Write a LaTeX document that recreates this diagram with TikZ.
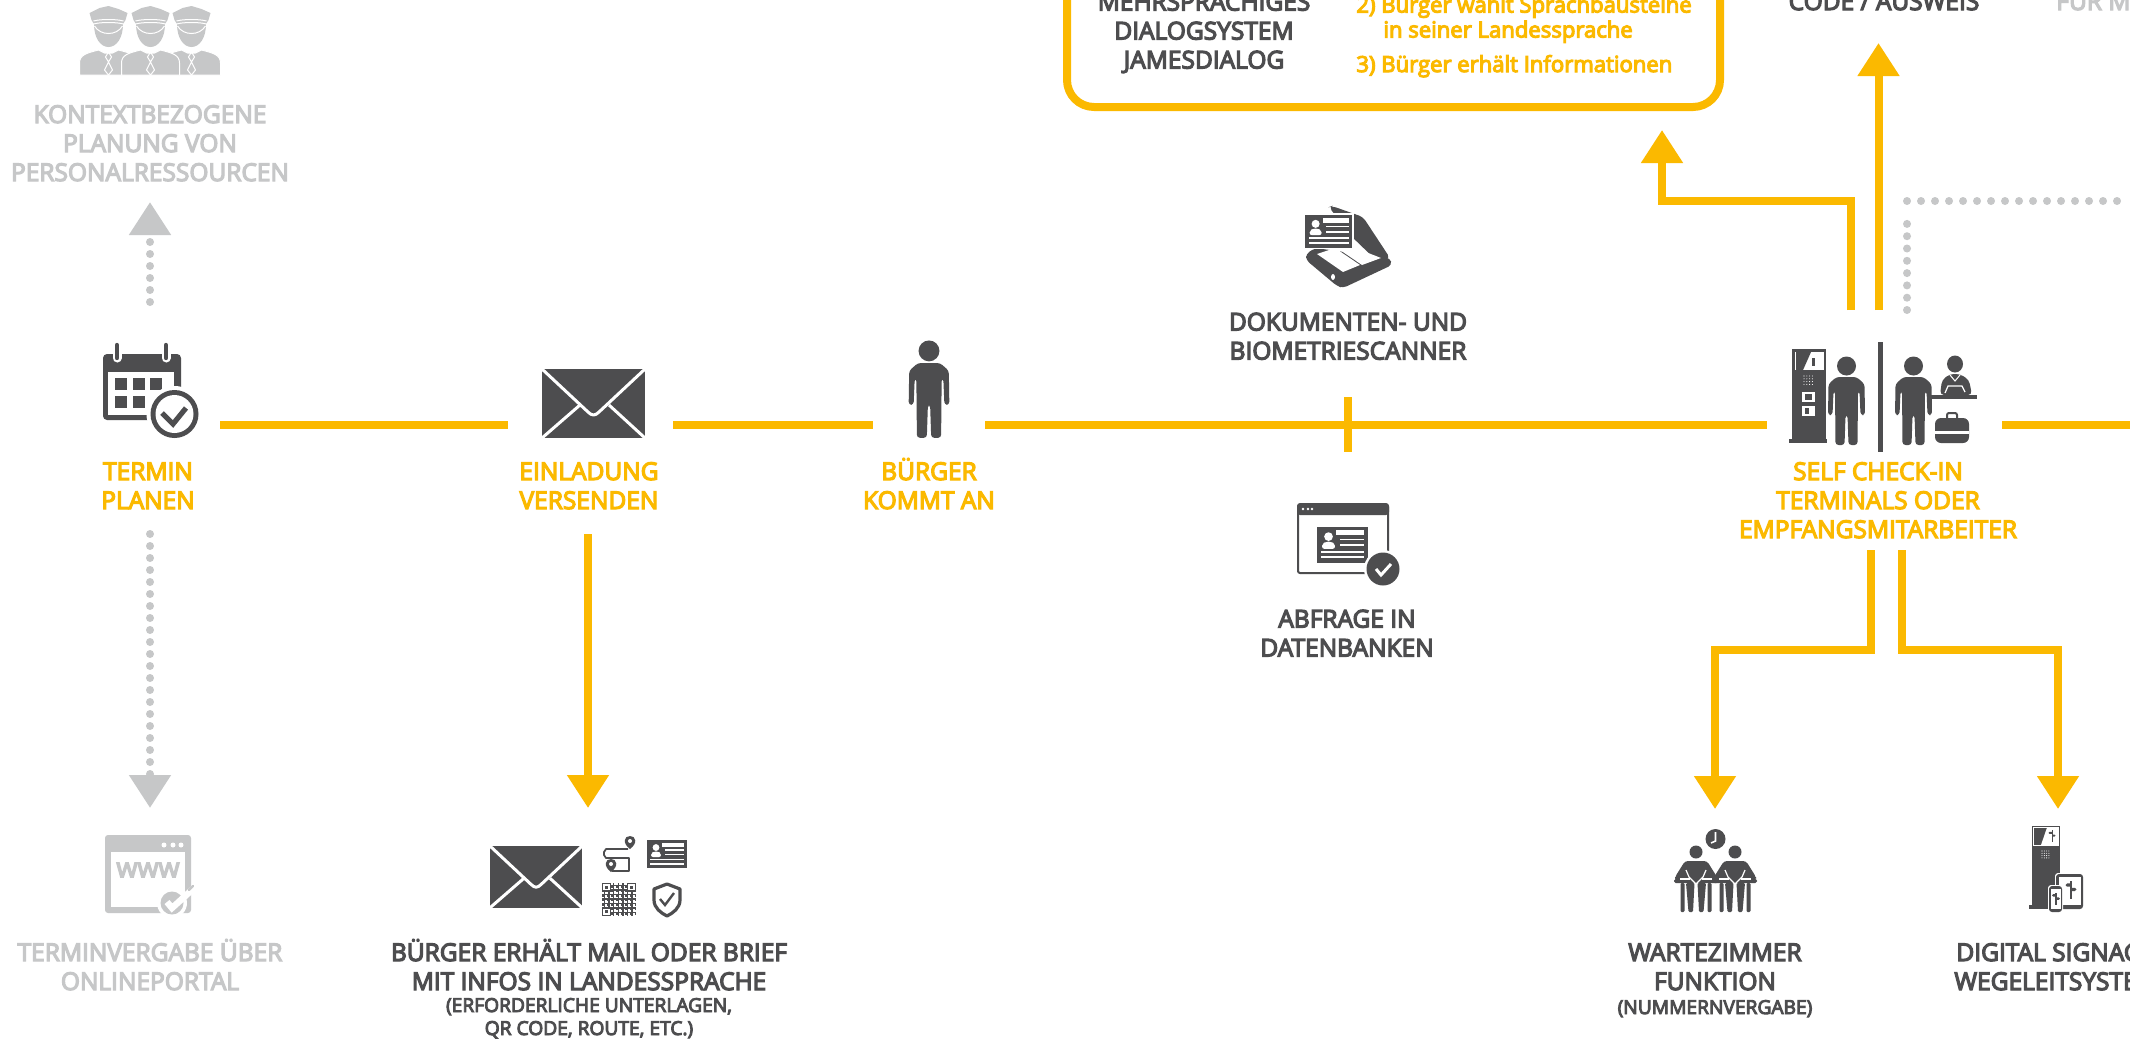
\documentclass[tikz,border=0pt]{standalone}
\usepackage{fontspec}
\setmainfont{Open Sans}
\newfontfamily\semifont{Open Sans}[FakeBold=5]
\usetikzlibrary{arrows.meta}
\definecolor{sun}{HTML}{FBB900}
\definecolor{ink}{HTML}{4D4D4F}
\definecolor{mist}{HTML}{C6C7C8}
\tikzset{
  flow/.style={draw=sun,line width=4pt},
  flowarrow/.style={flow,-{Triangle[length=16.5pt,width=20pt]}},
  dots/.style={draw=mist,line width=4pt,line cap=round,dash pattern=on 0pt off 6pt},
  dotarrow/.style={dots,-{Triangle[length=16.5pt,width=20pt,fill=mist]}},
  lbl/.style={font=\fontsize{12.25}{14.5}\selectfont\semifont,align=center,anchor=base,inner sep=0pt,text=ink},
  lblsun/.style={lbl,text=sun},
  lblmist/.style={lbl,text=mist},
  lblsmall/.style={font=\fontsize{9.6}{11.5}\selectfont\semifont,align=center,anchor=base,inner sep=0pt,text=ink},
  lblleft/.style={font=\fontsize{11.05}{12.5}\selectfont\semifont,align=left,anchor=base west,inner sep=0pt,text=sun},
  iconbox/.style={inner sep=0pt,outer sep=0pt,minimum height=20pt},
}
\newcommand{\figperson}[3]{\begin{scope}[shift={(#1,#2)},scale=#3]
 \fill[ink] (0,9) circle[radius=9.5];
 \fill[ink,rounded corners=1.5pt] (-10,20)--(10,20)--(18,27)--(18.5,58)--(14,58)--(13,34)--(11.5,34)--(11,88)--(2,88)--(1,58)--(-1,58)--(-2,88)--(-11,88)--(-11.5,34)--(-13,34)--(-14,58)--(-18.5,58)--(-18,27)--cycle;
\end{scope}}
\newcommand{\figmail}[3]{\begin{scope}[shift={(#1,#2)},scale=#3]
 \fill[ink] (0,0) rectangle (103,69);
 \draw[white,line width=1.5pt,line join=round] (0,0)--(46,43) .. controls (50,47) and (53,47) .. (57,43)--(103,0);
 \draw[white,line width=1.5pt] (0,69)--(38,36);
 \draw[white,line width=1.5pt] (103,69)--(67,36);
\end{scope}}
\newcommand{\figcard}[3]{\begin{scope}[shift={(#1,#2)},scale=#3]
 \fill[ink] (0,0) rectangle (40,28);
 \fill[white] (9,7.5) circle[radius=3.4];
 \fill[white,rounded corners=1pt] (4,17)--(4,13)--(7,11.5)--(11,11.5)--(14,13)--(14,17)--cycle;
 \fill[white] (15,2.5) rectangle (37,6.5);
 \fill[white] (18,9) rectangle (37,10.5);
 \fill[white] (18,13.5) rectangle (37,15);
 \fill[white] (3,18.5) rectangle (37,20);
 \fill[white] (3,23) rectangle (37,24.5);
\end{scope}}
\newcommand{\figdots}[4]{\foreach \di in {0,1,2,3}\foreach \dj in {0,1,2,3}{\fill[#4] ({#1+\di*#3},{#2+\dj*#3}) circle[radius=.55];}}
\newcommand{\figpin}[2]{\fill[ink] (#1,#2) .. controls ({#1-8},{#2-6}) and ({#1-6},{#2-13}) .. (#1,{#2-13}) .. controls ({#1+6},{#2-13}) and ({#1+8},{#2-6}) .. (#1,#2)--cycle;
 \fill[white] (#1,{#2-8}) circle[radius=2];}
\newcommand{\figsign}[3]{\begin{scope}[shift={(#1,#2)},scale=#3]
 \fill[ink] (-.7,-8) rectangle (.7,8);
 \fill[ink] (-5,-4.5)--(-3.5,-6)--(0,-6)--(0,-3)--(-3.5,-3)--cycle;
 \fill[ink] (5,-.5)--(3.5,-2)--(0,-2)--(0,1)--(3.5,1)--cycle;
\end{scope}}
\newcommand{\figcop}[1]{\begin{scope}[shift={(#1,0)}]
 \fill[mist] (-9,8)--(0,6)--(10,9)--(19,13)--(17,20)--(14.5,24) .. controls (14.5,38) and (8,47) .. (0,47) .. controls (-8,47) and (-14.5,38) .. (-14.5,24)--(-17,20)--(-19,13)--cycle;
 \draw[white,line width=.5pt] (-15,21) .. controls (-8,19) and (8,19) .. (15,21);
 \draw[white,line width=.5pt] (-15,24) .. controls (-8,22) and (8,22) .. (15,24);
 \draw[white,line width=.5pt] (-14,26) .. controls (-8,36) and (8,36) .. (14,26);
\end{scope}}
\newcommand{\figcopbody}[1]{\begin{scope}[shift={(#1,0)}]
 \fill[mist,draw=white,line width=.5pt] (-29,75)--(-29,63) .. controls (-29,55) and (-22,53) .. (-10,50)--(-4,53)--(4,53)--(10,50) .. controls (22,53) and (29,55) .. (29,63)--(29,75)--cycle;
 \draw[white,line width=.5pt] (0,52)--(-3,57)--(0,62)--(3,57)--cycle;
 \draw[white,line width=.5pt] (0,62)--(-4,70)--(0,75)--(4,70)--cycle;
\end{scope}}
\newcommand{\figsitter}[1]{\begin{scope}[shift={(#1,852)}]
 \fill[ink] (0,0) circle[radius=6.5];
 \fill[ink,rounded corners=1.5pt] (-11,9)--(11,9)--(21,25)--(21,28)--(-21,28)--(-21,25)--cycle;
 \fill[ink,rounded corners=.8pt] (-22,27)--(22,27)--(22,31)--(-22,31)--cycle;
 \draw[white,line width=.6pt,line join=round] (-10,18)--(-7,25)--(0,32)--(7,25)--(10,18);
 \draw[white,line width=.6pt] (-16,27)--(-6,27);
 \draw[white,line width=.6pt] (16,27)--(6,27);
 \fill[ink,rounded corners=.6pt] (-15.5,31) rectangle (-11.5,60);
 \fill[ink,rounded corners=.6pt] (-10,31)--(-1.5,31)--(-3,60)--(-7.5,60)--cycle;
 \fill[ink,rounded corners=.6pt] (1.5,31)--(10,31)--(7.5,60)--(3,60)--cycle;
 \fill[ink,rounded corners=.6pt] (11.5,31) rectangle (15.5,60);
\end{scope}}
\begin{document}
\begin{tikzpicture}[x=.5pt,y=-.5pt]
\clip (0,0) rectangle (2130,1039);
\useasboundingbox (0,0) rectangle (2130,1039);
\fill[white] (0,0) rectangle (2130,1039);

% ---- anchoring nodes for the main row
\node[iconbox,minimum width=70pt] (cal) at (150,424.5) {};
\node[iconbox,minimum width=82.5pt] (env) at (590.5,424.5) {};
\node[iconbox,minimum width=56pt] (cit) at (929,424.5) {};
\node[iconbox,minimum width=117.5pt] (kiosk) at (1884.5,424.5) {};
\coordinate (edgeE) at (2130,424.5);
\coordinate (tickT) at (1348,397);
\coordinate (tickB) at (1348,452);
\coordinate (outA) at (1878.5,310);
\coordinate (outAtip) at (1878.5,43);
\coordinate (outB) at (1851,310);
\coordinate (outBtip) at (1662,130);
\coordinate (outC) at (1907,310);
\coordinate (outCc) at (1907,201);
\coordinate (outCe) at (2130,201);
\coordinate (downL) at (1871,550);
\coordinate (downLtip) at (1715,809);
\coordinate (downR) at (1902,550);
\coordinate (downRtip) at (2058,809);
\coordinate (einS) at (588,534);
\coordinate (einT) at (588,808);
\coordinate (upS) at (150,302);
\coordinate (upT) at (150,202);
\coordinate (dnS) at (150,534);
\coordinate (dnT) at (150,808);

% ---- connectors
\draw[flow] (cal.east)--(env.west);
\draw[flow] (env.east)--(cit.west);
\draw[flow] (cit.east)--(kiosk.west);
\draw[flow] (kiosk.east)--(edgeE);
\draw[flow] (tickT)--(tickB);
\draw[flowarrow] (outA)--(outAtip);
\draw[flowarrow] (outB)|-(1662,201)--(outBtip);
\draw[flowarrow] (downL)|-(1715,650)--(downLtip);
\draw[flowarrow] (downR)|-(2058,650)--(downRtip);
\draw[flowarrow] (einS)--(einT);
\draw[dotarrow] (upS)--(upT);
\draw[dotarrow] (dnS)--(dnT);
\draw[dots,dash pattern=on 0pt off 6.15pt] (outC)--(1907,212);
\draw[dots,dash pattern=on 0pt off 7pt] (outCc)--(outCe);

% ---- dialog box
\draw[sun,line width=4pt,rounded corners=13.5pt] (1067,-60) rectangle (1720,107);
\node[lbl] (dlgA) at (1204,68.5) {MEHRSPRACHIGES\\DIALOGSYSTEM\\JAMESDIALOG};
\node[lblleft] (dlgB) at (1356,12.5) {2) Bürger wählt Sprachbausteine};
\node[lblleft] (dlgC) at (1383,37.5) {in seiner Landessprache};
\node[lblleft] (dlgD) at (1356,72) {3) Bürger erhält Informationen};
\node[lbl] (codeT) at (1884,10) {CODE / AUSWEIS};
\node[lblmist,anchor=base west] (fuerT) at (2056,10) {FÜR M};

% ---- labels
\node[lblmist] (ctxT) at (150,181) {KONTEXTBEZOGENE\\PLANUNG VON\\PERSONALRESSOURCEN};
\node[lblsun] (calT) at (148,509) {TERMIN\\PLANEN};
\node[lblsun] (einT2) at (589,509) {EINLADUNG\\VERSENDEN};
\node[lblsun] (citT) at (929,509) {BÜRGER\\KOMMT AN};
\node[lbl] (scanT) at (1348,359.5) {DOKUMENTEN- UND\\BIOMETRIESCANNER};
\node[lbl] (dbT) at (1347,656.5) {ABFRAGE IN\\DATENBANKEN};
\node[lblsun] (kioskT) at (1878,538) {SELF CHECK-IN\\TERMINALS ODER\\EMPFANGSMITARBEITER};
\node[lbl] (mailT) at (589,990) {BÜRGER ERHÄLT MAIL ODER BRIEF\\MIT INFOS IN LANDESSPRACHE};
\node[lblsmall] (mailS) at (589,1035) {(ERFORDERLICHE UNTERLAGEN,\\QR CODE, ROUTE, ETC.)};
\node[lbl] (waitT) at (1715,990) {WARTEZIMMER\\FUNKTION};
\node[lblsmall] (waitS) at (1715,1014) {(NUMMERNVERGABE)};
\node[lbl,anchor=base west] (signT) at (1956,961) {DIGITAL SIGNAG};
\node[lbl,anchor=base west] (wegT) at (1954,990) {WEGELEITSYSTE};
\node[lblmist] (portT) at (150,990) {TERMINVERGABE ÜBER\\ONLINEPORTAL};

% ---- police staff
\figcopbody{108.5}\figcopbody{191.5}\figcopbody{150.5}
\figcop{108.5}\figcop{191.5}\figcop{150.5}

% ---- calendar
\fill[ink,rounded corners=2pt] (103,354) rectangle (181,420);
\fill[white] (108,372) rectangle (174,415);
\foreach \cx in {115,133,150}{\fill[ink] (\cx,378) rectangle ({\cx+12},390);}
\foreach \cx in {115,133}{\fill[ink] (\cx,396) rectangle ({\cx+12},408);}
\foreach \cx in {117,166}{
 \draw[white,line width=4.5pt,line cap=round] (\cx,346)--(\cx,358);
 \draw[ink,line width=2.2pt,line cap=round] (\cx,345)--(\cx,358);}
\fill[white] (174.5,414) circle[radius=28];
\fill[ink] (174.5,414) circle[radius=24];
\fill[white] (174.5,414) circle[radius=19];
\draw[ink,line width=2.6pt] (162,413)--(173,424)--(186,408);

% ---- mail, citizen
\figmail{542}{369}{1}
\figperson{929}{341}{1.1}

% ---- scanner
\fill[ink,rounded corners=2pt] (1306,254)--(1315,248)--(1390,258)--(1392,265)--(1343,288)--(1337,286)--(1306,260)--cycle;
\fill[ink,rounded corners=2pt] (1329,207)--(1332,206)--(1363,217)--(1390,258)--(1378,262)--(1350,235)--cycle;
\fill[white] (1317,254)--(1335,248)--(1360,265)--(1343,272)--cycle;
\fill[white] (1337,248)--(1353,247)--(1381,258)--(1362,265)--cycle;
\fill[white] (1333,277) ellipse[x radius=2,y radius=3];
\fill[white] (1303,213) rectangle (1354,249);
\figcard{1305}{215}{1.18}

% ---- database
\draw[ink,line width=1pt,rounded corners=1pt] (1298,505) rectangle (1388,573);
\fill[ink,rounded corners=1.5pt] (1297,503) rectangle (1389,515);
\foreach \cx in {1303,1308,1312}{\fill[white] (\cx,509) circle[radius=1.4];}
\figcard{1317}{527}{1.28}
\fill[white] (1383,569) circle[radius=19];
\fill[ink] (1383,569) circle[radius=16.5];
\draw[white,line width=1.5pt] (1376,569)--(1381,575)--(1391,564);

% ---- kiosk and staff
\fill[ink] (1792,349) rectangle (1826,439);
\fill[ink] (1789,439) rectangle (1827,443);
\fill[white] (1795,352) rectangle (1824,370);
\fill[ink] (1796,352)--(1811,352)--(1803,370)--(1796,370)--cycle;
\fill[ink] (1812,358) rectangle (1815,366);
\figdots{1804}{376}{2.8}{white}
\fill[white] (1802,392) rectangle (1815,402);
\fill[ink] (1805,394) rectangle (1812,400);
\fill[white] (1802,406) rectangle (1815,416);
\fill[ink] (1805,408) rectangle (1809,414);
\figperson{1846.5}{357}{1}
\fill[ink] (1877.5,342) rectangle (1882.5,452);
\figperson{1913.5}{357}{1}
\fill[ink] (1955,364) ellipse[x radius=8,y radius=8.5];
\fill[ink,rounded corners=2pt] (1940,395)--(1942,380)--(1950,374)--(1960,374)--(1969,380)--(1972,395)--cycle;
\draw[white,line width=.5pt] (1950,375)--(1955,381)--(1960,375);
\draw[white,line width=.6pt] (1945,393)--(1948,386)--(1962,386)--(1965,392);
\fill[ink] (1931,395) rectangle (1977,399);
\draw[ink,line width=1pt,rounded corners=1pt] (1947,420)--(1947,413)--(1957,413)--(1957,420);
\fill[ink,rounded corners=3pt] (1935,418) rectangle (1969,443);
\fill[white] (1935,431) rectangle (1969,433.5);

% ---- small set by the mail
\figmail{490}{846}{.895}
\draw[ink,line width=.9pt,line join=round] (628,849)--(606,849)--(604,852)--(604,855)--(606,858)--(629,858)--(629,871)--(612,871);
\figpin{630}{849}
\figpin{611}{872}
\figcard{647}{840}{1}
\begin{scope}[shift={(602,883)}]
\fill[ink] (0,0) rectangle (34,33);
\foreach \qi in {0,...,21}\foreach \qj in {0,...,21}{
 \pgfmathtruncatemacro\qh{mod(\qi*\qi*7+\qj*\qj*13+\qi*\qj*5+\qi+3*\qj,3)}
 \ifnum\qh=0 \fill[white] ({\qi*1.55},{\qj*1.5}) rectangle ({(\qi+1)*1.55},{(\qj+1)*1.5});\fi}
\foreach \qa/\qb in {0/0,25/0,0/24.5}{
 \fill[ink] (\qa,\qb) rectangle ({\qa+9},{\qb+8.5});
 \fill[white] ({\qa+1.3},{\qb+1.3}) rectangle ({\qa+7.7},{\qb+7.2});
 \fill[ink] ({\qa+2.8},{\qb+2.8}) rectangle ({\qa+6.2},{\qb+5.7});}
\end{scope}
\draw[ink,line width=1.6pt,fill=white,line join=round] (667,884)--(680,889)--(680,900) .. controls (680,908) and (673,913) .. (667,916) .. controls (661,913) and (654,908) .. (654,900)--(654,889)--cycle;
\draw[ink,line width=1.2pt] (660,899)--(665,905)--(674,893);

% ---- waiting room
\fill[ink] (1715.5,839) circle[radius=10];
\draw[white,line width=.8pt] (1715.5,832)--(1715.5,841)--(1711,843);
\figsitter{1696}
\figsitter{1735}

% ---- signage
\fill[ink] (2032,826) rectangle (2060,907);
\fill[ink] (2029,905) rectangle (2053,909);
\draw[white,line width=.4pt] (2033.5,827.5) rectangle (2058.5,845);
\fill[white] (2047,827.5)--(2058.5,827.5)--(2058.5,845)--(2041,845)--cycle;
\figsign{2052}{836}{.7}
\figdots{2042}{851}{2.3}{white}
\fill[white,rounded corners=1.5pt] (2055,873) rectangle (2084,910);
\fill[ink,rounded corners=1.5pt] (2056,874) rectangle (2083,909);
\fill[white] (2058.5,877) rectangle (2080.5,905);
\figsign{2071}{890}{1.1}
\fill[white,rounded corners=1.5pt] (2048,885) rectangle (2063,913);
\fill[ink,rounded corners=1.5pt] (2049,886) rectangle (2062,912);
\fill[white] (2050.5,889) rectangle (2060.5,909);
\figsign{2056}{899}{.8}

% ---- online portal
\fill[mist,rounded corners=1.5pt] (105,835) rectangle (191,913);
\fill[white] (111,852) rectangle (185,907);
\foreach \cx in {164,173,181}{\fill[white] (\cx,845) circle[radius=2.5];}
\node[inner sep=0pt,font=\fontsize{13.5}{14}\selectfont\semifont,text=mist] (www) at (148,870) {www};
\fill[white] (172,903) circle[radius=15];
\fill[mist] (172,903) circle[radius=11.5];
\draw[white,line width=3.2pt] (167,902)--(172,908)--(193,889);
\draw[mist,line width=1.2pt,line cap=round] (189,890)--(193,886);
\end{tikzpicture}
\end{document}
